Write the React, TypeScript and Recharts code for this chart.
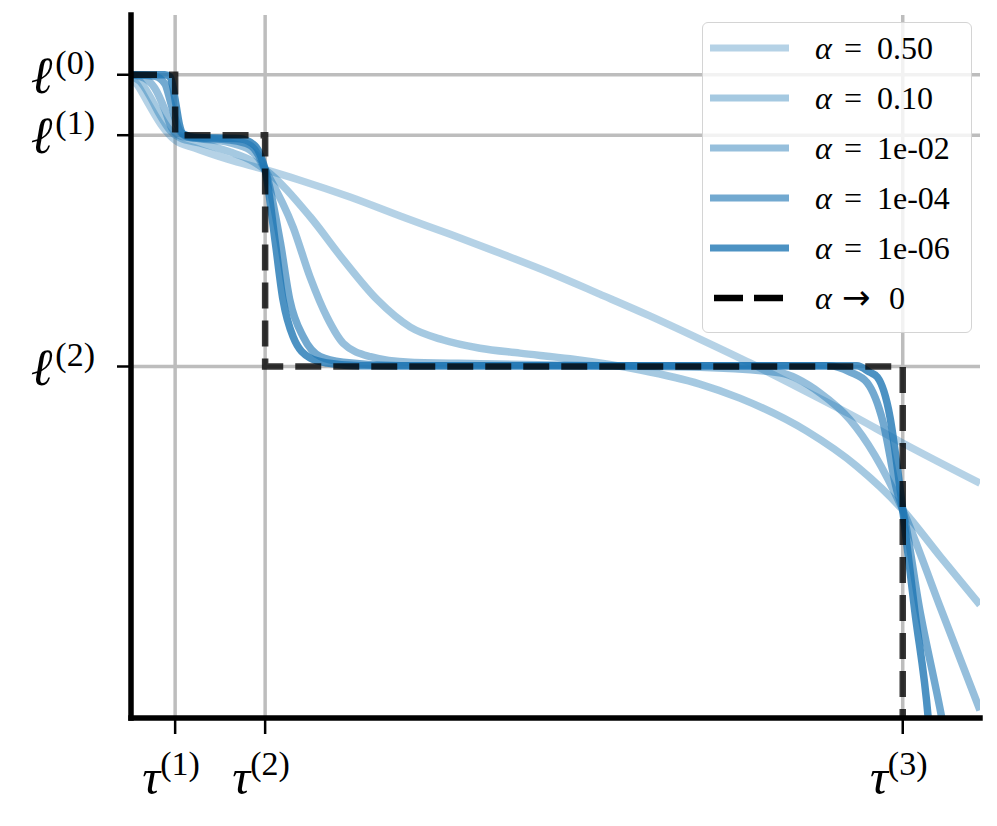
import React from "react";
import { Line, LineChart, ReferenceLine, XAxis, YAxis } from "recharts";

// change points (x) and levels (y) of the limit step function
const tauTicks = [0.52, 1.58, 9.09];
const tauLabels = ["(1)", "(2)", "(3)"];
const ellTicks = [5.0, 8.29, 9.15];
const ellLabels = ["(2)", "(1)", "(0)"];

const alphaLabels = ["0.50", "0.10", "1e-02", "1e-04", "1e-06"];

// curves, [x, y]
const alpha050: [number, number][] = [
  [0, 9.12], [0.08, 9.0], [0.2, 8.75], [0.35, 8.45], [0.52, 8.22], [0.75, 8.11],
  [1.14, 7.95], [1.58, 7.8], [1.99, 7.65], [2.58, 7.41], [3.17, 7.14], [3.76, 6.88],
  [4.35, 6.61], [4.94, 6.33], [5.52, 6.03], [6.11, 5.72], [6.7, 5.39], [7.29, 5.05],
  [7.88, 4.69], [8.47, 4.32], [9.06, 3.93], [10, 3.34],
];

const alpha010: [number, number][] = [
  [0, 9.13], [0.11, 9.05], [0.22, 8.85], [0.34, 8.58], [0.46, 8.36], [0.58, 8.25],
  [0.81, 8.18], [1.17, 8.05], [1.4, 7.94], [1.58, 7.8], [2.11, 7.13], [2.5, 6.52],
  [2.9, 5.95], [3.29, 5.56], [3.67, 5.38], [4.11, 5.26], [4.58, 5.19], [5.17, 5.11],
  [6.0, 4.95], [6.7, 4.75], [7.17, 4.55], [7.96, 4.08], [8.55, 3.58], [9.09, 2.96],
  [9.53, 2.3], [10, 1.61],
];

const alpha1e2: [number, number][] = [
  [0, 9.15], [0.16, 9.1], [0.28, 8.96], [0.4, 8.65], [0.48, 8.39], [0.58, 8.28],
  [0.81, 8.24], [1.17, 8.18], [1.4, 8.08], [1.5, 7.97], [1.58, 7.8], [1.91, 6.98],
  [2.11, 6.27], [2.31, 5.7], [2.5, 5.33], [2.82, 5.14], [3.29, 5.06], [4.11, 5.04],
  [5.52, 5.01], [6.7, 4.99], [7.64, 4.91], [8.12, 4.62], [8.47, 4.24], [8.76, 3.74],
  [9.09, 2.96], [9.53, 1.58], [10, 0.11],
];

const alpha1e4: [number, number][] = [
  [0, 9.15], [0.28, 9.13], [0.4, 9.02], [0.46, 8.79], [0.52, 8.53], [0.58, 8.34],
  [0.69, 8.26], [1.17, 8.22], [1.4, 8.15], [1.5, 8.01], [1.58, 7.8], [1.76, 6.76],
  [1.87, 5.95], [2.03, 5.42], [2.23, 5.14], [2.5, 5.06], [3.17, 5.01], [8.23, 5.01],
  [8.47, 4.92], [8.67, 4.77], [8.86, 4.2], [9.02, 3.24], [9.09, 2.96], [9.29, 1.54],
  [9.55, 0], [9.65, -0.67],
];

const alpha1e6: [number, number][] = [
  [0, 9.15], [0.4, 9.15], [0.46, 9.12], [0.49, 9.0], [0.53, 8.72], [0.57, 8.44],
  [0.61, 8.31], [0.75, 8.26], [1.28, 8.24], [1.46, 8.14], [1.53, 7.99], [1.58, 7.8],
  [1.7, 6.76], [1.79, 5.95], [1.91, 5.42], [2.11, 5.12], [2.31, 5.05], [2.7, 5.01],
  [8.55, 5.01], [8.7, 4.92], [8.79, 4.85], [8.94, 4.28], [9.03, 3.53], [9.09, 2.96],
  [9.23, 1.54], [9.39, 0], [9.43, -0.6],
];

const alphaZero: [number, number][] = [
  [0, 9.15], [0.52, 9.15], [0.52, 8.29], [1.58, 8.29], [1.58, 5.0], [9.09, 5.0], [9.09, 0],
];

const curves = [alpha050, alpha010, alpha1e2, alpha1e4, alpha1e6];
const opacities = [0.33, 0.4, 0.47, 0.63, 0.8];
const BLUE = "#1f77b4";
const GRID = "#bdbdbd";
const SERIF = "'Liberation Serif', 'DejaVu Serif', serif";

const toPoints = (pts: [number, number][]) => pts.map(([x, y]) => ({ x, y }));

const XTick = (props: any) => {
  const { x, y, payload } = props;
  const i = tauTicks.indexOf(payload.value);
  return (
    <text x={x - 4} y={y + 60} textAnchor="middle" fontFamily={SERIF} fill="#000">
      <tspan fontStyle="italic" fontSize={50}>τ</tspan>
      <tspan fontSize={34} dy={-19}>{tauLabels[i]}</tspan>
    </text>
  );
};

const YTick = (props: any) => {
  const { x, y, payload } = props;
  const i = ellTicks.indexOf(payload.value);
  return (
    <text x={x - 22} y={y + 18} textAnchor="end" fontFamily={SERIF} fill="#000">
      <tspan fontStyle="italic" fontSize={52}>ℓ</tspan>
      <tspan fontSize={34} dx={3} dy={-19}>{ellLabels[i]}</tspan>
    </text>
  );
};

function LegendBox() {
  const rows = [...alphaLabels, "zero"];
  return (
    <div
      style={{
        position: "absolute",
        left: 694,
        top: 14,
        width: 270,
        height: 311,
        boxSizing: "border-box",
        border: "1.5px solid #d4d4d4",
        borderRadius: 6,
        background: "rgba(255,255,255,0.8)",
      }}
    >
      <svg width={267} height={308}>
        {rows.map((lab, i) => {
          const cy = 25 + i * 50;
          const isZero = lab === "zero";
          return (
            <g key={lab}>
              {isZero ? (
                <line x1={11} x2={81} y1={cy} y2={cy} stroke="#000" strokeWidth={6.5} strokeDasharray="29 11" />
              ) : (
                <line x1={7} x2={86} y1={cy} y2={cy} stroke={BLUE} strokeOpacity={opacities[i]} strokeWidth={7} />
              )}
              <text x={112} y={cy + 11} fontFamily={SERIF} fontSize={32} fill="#000">
                <tspan fontStyle="italic">α</tspan>
                {isZero ? (
                  <tspan x={139} fontFamily="'DejaVu Sans', sans-serif" fontSize={34}>→</tspan>
                ) : (
                  <tspan x={141}>=</tspan>
                )}
                <tspan x={isZero ? 186 : 174}>{isZero ? "0" : lab}</tspan>
              </text>
            </g>
          );
        })}
      </svg>
    </div>
  );
}

export default function App() {
  return (
    <div style={{ position: "relative", width: 980, height: 800 }}>
      <LineChart width={980} height={800} margin={{ top: 7, right: 8, bottom: 0, left: 0 }}>
        <XAxis
          type="number"
          dataKey="x"
          domain={[0, 10]}
          ticks={tauTicks}
          allowDataOverflow
          height={90}
          tickSize={16}
          tickMargin={0}
          tick={<XTick />}
          tickLine={{ stroke: "#000", strokeWidth: 2.5 }}
          axisLine={{ stroke: "#000", strokeWidth: 5.5, strokeLinecap: "square" }}
        />
        <YAxis
          type="number"
          dataKey="y"
          domain={[0, 10]}
          ticks={ellTicks}
          allowDataOverflow
          width={123}
          tickSize={14}
          tickMargin={0}
          tick={<YTick />}
          tickLine={{ stroke: "#000", strokeWidth: 2.5 }}
          axisLine={{ stroke: "#000", strokeWidth: 5.5, strokeLinecap: "square" }}
        />
        {tauTicks.map((t) => (
          <ReferenceLine key={`v${t}`} x={t} stroke={GRID} strokeWidth={3.5} />
        ))}
        {ellTicks.map((l) => (
          <ReferenceLine key={`h${l}`} y={l} stroke={GRID} strokeWidth={3.5} />
        ))}
        {curves.map((c, i) => (
          <Line
            key={alphaLabels[i]}
            data={toPoints(c)}
            dataKey="y"
            type="monotone"
            stroke={BLUE}
            strokeOpacity={opacities[i]}
            strokeWidth={7.5}
            dot={false}
            activeDot={false}
            isAnimationActive={false}
          />
        ))}
        <Line
          data={toPoints(alphaZero)}
          dataKey="y"
          type="linear"
          stroke="#000"
          strokeOpacity={0.78}
          strokeWidth={6.5}
          strokeDasharray="26 12"
          dot={false}
          activeDot={false}
          isAnimationActive={false}
        />
      </LineChart>
      <LegendBox />
    </div>
  );
}
